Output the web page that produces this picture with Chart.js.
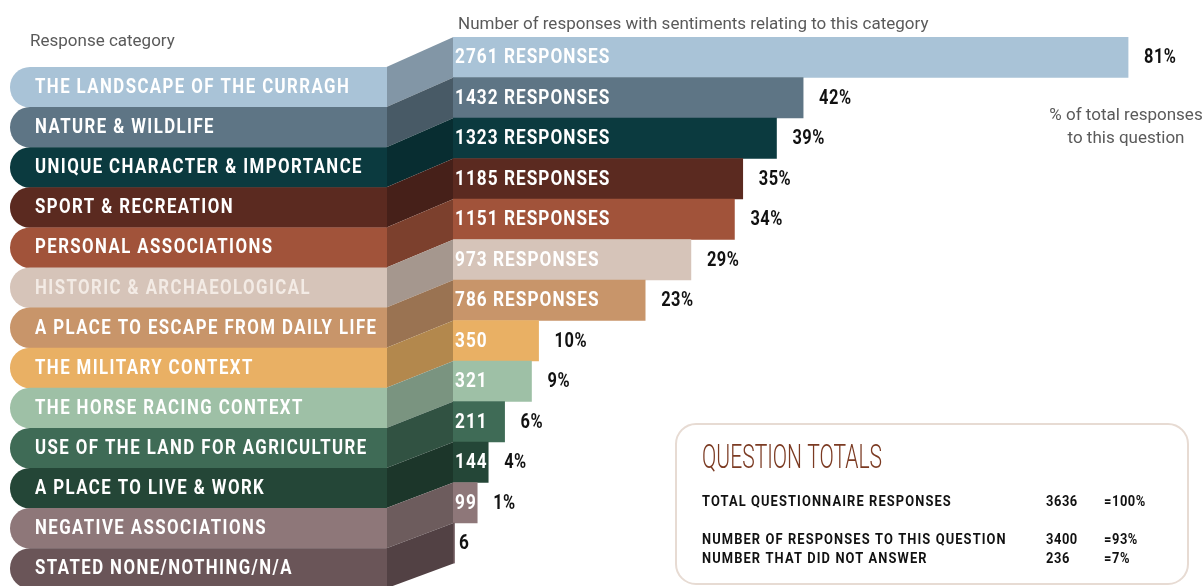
<!DOCTYPE html>
<html lang="en">
<head>
  <meta charset="UTF-8" />
  <title>Response categories</title>
  <script src="https://cdn.jsdelivr.net/npm/chart.js"></script>
  <style>
    body { margin: 0; background: #fff; }
    #wrap { width: 1203px; height: 586px; }
  </style>
</head>
<body>
  <div id="wrap"><canvas id="chart" width="1203" height="586"></canvas></div>

  <script>
    const categories = [
      "THE LANDSCAPE OF THE CURRAGH",
      "NATURE & WILDLIFE",
      "UNIQUE CHARACTER & IMPORTANCE",
      "SPORT & RECREATION",
      "PERSONAL ASSOCIATIONS",
      "HISTORIC & ARCHAEOLOGICAL",
      "A PLACE TO ESCAPE FROM DAILY LIFE",
      "THE MILITARY CONTEXT",
      "THE HORSE RACING CONTEXT",
      "USE OF THE LAND FOR AGRICULTURE",
      "A PLACE TO LIVE & WORK",
      "NEGATIVE ASSOCIATIONS",
      "STATED NONE/NOTHING/N/A"
    ];
    const responses = [2761, 1432, 1323, 1185, 1151, 973, 786, 350, 321, 211, 144, 99, 6];
    const percents = [81, 42, 39, 35, 34, 29, 23, 10, 9, 6, 4, 1, null];

    const totalsLabels = ["TOTAL QUESTIONNAIRE RESPONSES", "NUMBER OF RESPONSES TO THIS QUESTION", "NUMBER THAT DID NOT ANSWER"];
    const totalsCounts = [3636, 3400, 236];
    const totalsShares = ["=100%", "=93%", "=7%"];

    const palette = [
      "#a9c3d7", "#5e7585", "#0b3a3f", "#5b2a20", "#a1533a", "#d6c4b9", "#c8956a",
      "#e9b064", "#9ec0a6", "#3f6b56", "#244637", "#8e7779", "#6a5558"
    ];

    function shade(hex, f) {
      const n = parseInt(hex.slice(1), 16);
      const r = Math.round(((n >> 16) & 255) * f);
      const g = Math.round(((n >> 8) & 255) * f);
      const b = Math.round((n & 255) * f);
      return `rgb(${r},${g},${b})`;
    }

    // condensed, tracked text: squeeze horizontally around the anchor
    function squeezed(ctx, text, x, y, sx, spacing) {
      ctx.save();
      ctx.translate(x, y);
      ctx.scale(sx, 1);
      ctx.letterSpacing = (spacing || 0) + "px";
      ctx.textAlign = "left";
      ctx.fillText(text, 0, 0);
      ctx.restore();
    }

    const PILL_LEFT = 10, PILL_RIGHT = 387, ROW_TOP = 67, ROW_H = 40.1;

    const ribbonPlugin = {
      id: "ribbons",
      beforeDatasetsDraw(chart) {
        const ctx = chart.ctx;
        const meta = chart.getDatasetMeta(0);
        const barLeft = chart.scales.x.getPixelForValue(0);
        ctx.save();
        categories.forEach((c, i) => {
          const bar = meta.data[i];
          const top = ROW_TOP + i * ROW_H, bottom = top + ROW_H;
          const bTop = bar.y - bar.height / 2, bBottom = bar.y + bar.height / 2;
          // sloped side linking the label band to its bar
          ctx.fillStyle = shade(palette[i], 0.77);
          ctx.beginPath();
          ctx.moveTo(PILL_RIGHT - 0.5, top);
          ctx.lineTo(barLeft + 0.5, bTop);
          ctx.lineTo(barLeft + 0.5, bBottom);
          ctx.lineTo(PILL_RIGHT - 0.5, bottom);
          ctx.closePath();
          ctx.fill();
        });
        categories.forEach((c, i) => {
          const top = ROW_TOP + i * ROW_H;
          ctx.fillStyle = palette[i];
          ctx.beginPath();
          ctx.roundRect(PILL_LEFT, top, PILL_RIGHT - PILL_LEFT, ROW_H + 0.4, [20, 0, 0, 20]);
          ctx.fill();
          ctx.fillStyle = i === 5 ? "#f3ebe5" : "#ffffff";
          ctx.font = "bold 20px Roboto";
          ctx.textBaseline = "middle";
          squeezed(ctx, c, 35, top + ROW_H / 2 + 1, 0.84, 1.7);
        });
        ctx.restore();
      },
      afterDatasetsDraw(chart) {
        const ctx = chart.ctx;
        const meta = chart.getDatasetMeta(0);
        ctx.save();
        ctx.textBaseline = "middle";
        meta.data.forEach((bar, i) => {
          const v = responses[i];
          const cy = bar.y + 1;
          ctx.font = "bold 20px Roboto";
          if (v >= 50) {
            ctx.fillStyle = "#ffffff";
            squeezed(ctx, v + (v > 500 ? " RESPONSES" : ""), bar.base + 2, cy, 0.86, 1.2);
          } else {
            ctx.fillStyle = "#111111";
            squeezed(ctx, String(v), bar.base + 6, cy, 0.86, 1);
          }
          if (percents[i] !== null) {
            ctx.fillStyle = "#111111";
            squeezed(ctx, percents[i] + "%", bar.x + 16, cy, 0.82, 0.6);
          }
        });

        // headings
        ctx.fillStyle = "#5a5a5a";
        ctx.font = "17px Roboto";
        ctx.textAlign = "left";
        ctx.fillText("Response category", 30, 42);
        ctx.fillText("Number of responses with sentiments relating to this category", 458, 25);
        ctx.textAlign = "center";
        ctx.fillText("% of total responses", 1126, 116);
        ctx.fillText("to this question", 1126, 139);

        // totals panel
        ctx.strokeStyle = "#e7dbd3";
        ctx.lineWidth = 2;
        ctx.fillStyle = "#ffffff";
        ctx.beginPath();
        ctx.roundRect(676, 424, 512, 160, 20);
        ctx.fill();
        ctx.stroke();

        ctx.fillStyle = "#7b3a22";
        ctx.font = "300 34px Roboto";
        squeezed(ctx, "QUESTION TOTALS", 702, 459, 0.62, 0);

        ctx.fillStyle = "#111111";
        ctx.font = "bold 14px Roboto";
        const rowY = [502, 540, 559];
        totalsLabels.forEach((t, i) => {
          squeezed(ctx, t, 702, rowY[i], 0.92, 1.2);
          squeezed(ctx, String(totalsCounts[i]), 1046, rowY[i], 0.92, 0.6);
          squeezed(ctx, totalsShares[i], 1104, rowY[i], 0.92, 0.6);
        });
        ctx.restore();
      }
    };

    new Chart(document.getElementById("chart"), {
      type: "bar",
      data: {
        labels: categories,
        datasets: [{
          data: responses,
          backgroundColor: palette,
          borderWidth: 0,
          barPercentage: 1,
          categoryPercentage: 1
        }]
      },
      options: {
        indexAxis: "y",
        responsive: false,
        animation: false,
        layout: { padding: { left: 453, right: 16.5, top: 37, bottom: 22.5 } },
        scales: {
          x: { display: false, min: 0, max: 3000 },
          y: { display: false }
        },
        plugins: { legend: { display: false }, tooltip: { enabled: false } }
      },
      plugins: [ribbonPlugin]
    });
  </script>
</body>
</html>
